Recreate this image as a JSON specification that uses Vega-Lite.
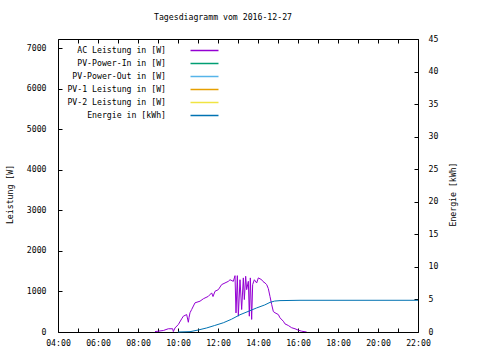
{
  "$schema": "https://vega.github.io/schema/vega-lite/v6.json",
  "width": 360,
  "height": 293,
  "autosize": {"type": "none"},
  "padding": {"left": 58, "top": 39, "right": 62, "bottom": 28},
  "background": "white",
  "title": {"text": "Tagesdiagramm vom 2016-12-27", "anchor": "middle", "frame": "group", "dx": -15, "offset": 12, "font": "DejaVu Sans Mono", "fontSize": 8.2, "fontWeight": "normal", "color": "black"},
  "config": {
    "view": {"stroke": "black", "strokeWidth": 1},
    "font": "DejaVu Sans Mono",
    "axis": {"labelFont": "DejaVu Sans Mono", "labelFontSize": 8.2, "labelColor": "black", "titleFont": "DejaVu Sans Mono", "titleFontSize": 8.2, "titleFontWeight": "normal", "titleColor": "black", "domain": false, "grid": false, "tickColor": "black", "tickSize": -4, "tickWidth": 1},
    "legend": {"labelFont": "DejaVu Sans Mono", "labelFontSize": 8.2, "labelColor": "black"}
  },
  "datasets": {
    "power": [
      {"t": "2016-12-27T08:51", "series": "AC Leistung in [W]", "value": 10},
      {"t": "2016-12-27T09:16", "series": "AC Leistung in [W]", "value": 37},
      {"t": "2016-12-27T09:31", "series": "AC Leistung in [W]", "value": 80},
      {"t": "2016-12-27T09:44", "series": "AC Leistung in [W]", "value": 80},
      {"t": "2016-12-27T09:46", "series": "AC Leistung in [W]", "value": 10},
      {"t": "2016-12-27T09:51", "series": "AC Leistung in [W]", "value": 100},
      {"t": "2016-12-27T10:01", "series": "AC Leistung in [W]", "value": 185},
      {"t": "2016-12-27T10:11", "series": "AC Leistung in [W]", "value": 325},
      {"t": "2016-12-27T10:16", "series": "AC Leistung in [W]", "value": 390},
      {"t": "2016-12-27T10:26", "series": "AC Leistung in [W]", "value": 430},
      {"t": "2016-12-27T10:31", "series": "AC Leistung in [W]", "value": 240},
      {"t": "2016-12-27T10:33", "series": "AC Leistung in [W]", "value": 355},
      {"t": "2016-12-27T10:36", "series": "AC Leistung in [W]", "value": 475},
      {"t": "2016-12-27T10:41", "series": "AC Leistung in [W]", "value": 555},
      {"t": "2016-12-27T10:51", "series": "AC Leistung in [W]", "value": 720},
      {"t": "2016-12-27T11:06", "series": "AC Leistung in [W]", "value": 760},
      {"t": "2016-12-27T11:16", "series": "AC Leistung in [W]", "value": 820},
      {"t": "2016-12-27T11:31", "series": "AC Leistung in [W]", "value": 880},
      {"t": "2016-12-27T11:41", "series": "AC Leistung in [W]", "value": 965},
      {"t": "2016-12-27T11:45", "series": "AC Leistung in [W]", "value": 875},
      {"t": "2016-12-27T11:51", "series": "AC Leistung in [W]", "value": 1005},
      {"t": "2016-12-27T12:01", "series": "AC Leistung in [W]", "value": 1045},
      {"t": "2016-12-27T12:11", "series": "AC Leistung in [W]", "value": 1170},
      {"t": "2016-12-27T12:21", "series": "AC Leistung in [W]", "value": 1210},
      {"t": "2016-12-27T12:31", "series": "AC Leistung in [W]", "value": 1250},
      {"t": "2016-12-27T12:36", "series": "AC Leistung in [W]", "value": 1290},
      {"t": "2016-12-27T12:46", "series": "AC Leistung in [W]", "value": 1250},
      {"t": "2016-12-27T12:51", "series": "AC Leistung in [W]", "value": 1390},
      {"t": "2016-12-27T12:54", "series": "AC Leistung in [W]", "value": 470},
      {"t": "2016-12-27T12:58", "series": "AC Leistung in [W]", "value": 1390},
      {"t": "2016-12-27T13:01", "series": "AC Leistung in [W]", "value": 390},
      {"t": "2016-12-27T13:06", "series": "AC Leistung in [W]", "value": 1290},
      {"t": "2016-12-27T13:11", "series": "AC Leistung in [W]", "value": 555},
      {"t": "2016-12-27T13:16", "series": "AC Leistung in [W]", "value": 1335},
      {"t": "2016-12-27T13:19", "series": "AC Leistung in [W]", "value": 800},
      {"t": "2016-12-27T13:23", "series": "AC Leistung in [W]", "value": 1375},
      {"t": "2016-12-27T13:26", "series": "AC Leistung in [W]", "value": 1045},
      {"t": "2016-12-27T13:31", "series": "AC Leistung in [W]", "value": 1250},
      {"t": "2016-12-27T13:34", "series": "AC Leistung in [W]", "value": 390},
      {"t": "2016-12-27T13:37", "series": "AC Leistung in [W]", "value": 1335},
      {"t": "2016-12-27T13:41", "series": "AC Leistung in [W]", "value": 310},
      {"t": "2016-12-27T13:44", "series": "AC Leistung in [W]", "value": 1170},
      {"t": "2016-12-27T13:49", "series": "AC Leistung in [W]", "value": 1290},
      {"t": "2016-12-27T13:56", "series": "AC Leistung in [W]", "value": 1210},
      {"t": "2016-12-27T14:01", "series": "AC Leistung in [W]", "value": 1335},
      {"t": "2016-12-27T14:11", "series": "AC Leistung in [W]", "value": 1290},
      {"t": "2016-12-27T14:15", "series": "AC Leistung in [W]", "value": 1245},
      {"t": "2016-12-27T14:21", "series": "AC Leistung in [W]", "value": 1210},
      {"t": "2016-12-27T14:26", "series": "AC Leistung in [W]", "value": 1170},
      {"t": "2016-12-27T14:31", "series": "AC Leistung in [W]", "value": 1070},
      {"t": "2016-12-27T14:36", "series": "AC Leistung in [W]", "value": 875},
      {"t": "2016-12-27T14:41", "series": "AC Leistung in [W]", "value": 680},
      {"t": "2016-12-27T14:46", "series": "AC Leistung in [W]", "value": 505},
      {"t": "2016-12-27T14:51", "series": "AC Leistung in [W]", "value": 475},
      {"t": "2016-12-27T15:01", "series": "AC Leistung in [W]", "value": 430},
      {"t": "2016-12-27T15:06", "series": "AC Leistung in [W]", "value": 350},
      {"t": "2016-12-27T15:16", "series": "AC Leistung in [W]", "value": 265},
      {"t": "2016-12-27T15:21", "series": "AC Leistung in [W]", "value": 200},
      {"t": "2016-12-27T15:31", "series": "AC Leistung in [W]", "value": 160},
      {"t": "2016-12-27T15:41", "series": "AC Leistung in [W]", "value": 105},
      {"t": "2016-12-27T15:51", "series": "AC Leistung in [W]", "value": 80},
      {"t": "2016-12-27T16:01", "series": "AC Leistung in [W]", "value": 45},
      {"t": "2016-12-27T16:11", "series": "AC Leistung in [W]", "value": 20},
      {"t": "2016-12-27T16:26", "series": "AC Leistung in [W]", "value": 0}
    ],
    "energy": [
      {"t": "2016-12-27T10:00", "series": "Energie in [kWh]", "kwh": 0},
      {"t": "2016-12-27T10:36", "series": "Energie in [kWh]", "kwh": 0.05},
      {"t": "2016-12-27T11:00", "series": "Energie in [kWh]", "kwh": 0.3},
      {"t": "2016-12-27T11:26", "series": "Energie in [kWh]", "kwh": 0.62},
      {"t": "2016-12-27T11:50", "series": "Energie in [kWh]", "kwh": 1.0},
      {"t": "2016-12-27T12:16", "series": "Energie in [kWh]", "kwh": 1.42},
      {"t": "2016-12-27T12:40", "series": "Energie in [kWh]", "kwh": 1.95},
      {"t": "2016-12-27T13:06", "series": "Energie in [kWh]", "kwh": 2.65},
      {"t": "2016-12-27T13:30", "series": "Energie in [kWh]", "kwh": 3.15},
      {"t": "2016-12-27T13:56", "series": "Energie in [kWh]", "kwh": 3.7},
      {"t": "2016-12-27T14:20", "series": "Energie in [kWh]", "kwh": 4.15},
      {"t": "2016-12-27T14:36", "series": "Energie in [kWh]", "kwh": 4.55},
      {"t": "2016-12-27T14:50", "series": "Energie in [kWh]", "kwh": 4.75},
      {"t": "2016-12-27T15:06", "series": "Energie in [kWh]", "kwh": 4.82},
      {"t": "2016-12-27T16:06", "series": "Energie in [kWh]", "kwh": 4.87},
      {"t": "2016-12-27T22:00", "series": "Energie in [kWh]", "kwh": 4.87}
    ]
  },
  "layer": [
    {
      "data": {"name": "power"},
      "mark": {"type": "line", "strokeWidth": 1, "interpolate": "linear", "clip": true},
      "encoding": {
        "x": {"field": "t", "type": "temporal",
          "scale": {"domain": ["2016-12-27T04:00", "2016-12-27T22:00"]},
          "axis": {"orient": "bottom", "title": null, "format": "%H:%M",
            "values": ["2016-12-27T04:00","2016-12-27T05:00","2016-12-27T06:00","2016-12-27T07:00","2016-12-27T08:00","2016-12-27T09:00","2016-12-27T10:00","2016-12-27T11:00","2016-12-27T12:00","2016-12-27T13:00","2016-12-27T14:00","2016-12-27T15:00","2016-12-27T16:00","2016-12-27T17:00","2016-12-27T18:00","2016-12-27T19:00","2016-12-27T20:00","2016-12-27T21:00","2016-12-27T22:00"],
            "labelExpr": "hours(datum.value) % 2 == 0 ? timeFormat(datum.value, '%H:%M') : ''",
            "labelPadding": 11, "labelFlush": false, "labelOverlap": false}},
        "y": {"field": "value", "type": "quantitative",
          "scale": {"domain": [0, 7230], "nice": false},
          "axis": {"orient": "left", "title": "Leistung [W]", "format": "d", "values": [0,1000,2000,3000,4000,5000,6000,7000], "labelPadding": 16,
            "titleAngle": -90, "titleX": -48, "titleY": 155, "titleAlign": "center", "titleBaseline": "middle"}},
        "color": {"field": "series", "type": "nominal",
          "scale": {"domain": ["AC Leistung in [W]", "PV-Power-In in [W]", "PV-Power-Out in [W]", "PV-1 Leistung in [W]", "PV-2 Leistung in [W]", "Energie in [kWh]"],
                    "range": ["#9400d3", "#009e73", "#56b4e9", "#e69f00", "#f0e442", "#0072b2"]},
          "legend": {"orient": "none", "legendX": 141, "legendY": 6, "title": null, "symbolType": "M-3,0H3", "symbolSize": 87, "symbolStrokeWidth": 1.5, "symbolOpacity": 1, "symbolFillColor": "transparent", "labelAlign": "right", "labelOffset": -44, "rowPadding": 4, "padding": 0}}
      }
    },
    {
      "data": {"name": "energy"},
      "mark": {"type": "line", "strokeWidth": 1, "interpolate": "linear"},
      "encoding": {
        "x": {"field": "t", "type": "temporal",
          "axis": {"orient": "top", "title": null, "labels": false,
            "values": ["2016-12-27T04:00","2016-12-27T05:00","2016-12-27T06:00","2016-12-27T07:00","2016-12-27T08:00","2016-12-27T09:00","2016-12-27T10:00","2016-12-27T11:00","2016-12-27T12:00","2016-12-27T13:00","2016-12-27T14:00","2016-12-27T15:00","2016-12-27T16:00","2016-12-27T17:00","2016-12-27T18:00","2016-12-27T19:00","2016-12-27T20:00","2016-12-27T21:00","2016-12-27T22:00"]}},
        "y": {"field": "kwh", "type": "quantitative",
          "scale": {"domain": [0, 45], "nice": false},
          "axis": {"orient": "right", "title": "Energie [kWh]", "values": [0,5,10,15,20,25,30,35,40,45], "labelPadding": 14,
            "titleAngle": -90, "titleX": 35, "titleY": 155, "titleAlign": "center", "titleBaseline": "middle"}},
        "color": {"field": "series", "type": "nominal"}
      }
    }
  ],
  "resolve": {"scale": {"y": "independent"}, "axis": {"x": "independent"}}
}
